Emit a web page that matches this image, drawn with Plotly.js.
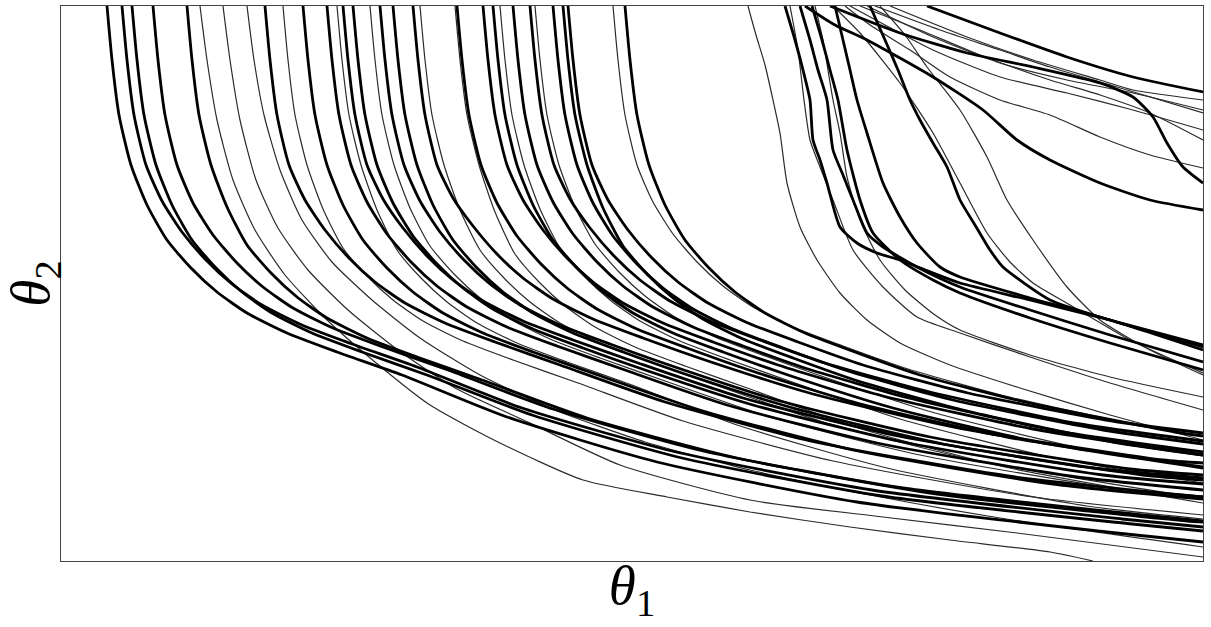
<!DOCTYPE html>
<html>
<head>
<meta charset="utf-8">
<script src="https://cdn.plot.ly/plotly-3.0.1.min.js"></script>
<style>
  html, body { margin: 0; padding: 0; background: #fff; }
  #chart { width: 1211px; height: 627px; }
</style>
</head>
<body>
<div id="chart"></div>
<script>
// trajectories in the (theta1, theta2) plane
// thick paths
const thickX = [
  [107,112,119,131,147,167,191,217,247,287,337,402,507,657,857,1107,1203],
  [122,127,134,146,162,182,206,232,262,302,352,417,522,672,872,1122,1203],
  [132,137,144,156,172,192,216,242,272,312,362,427,532,682,882,1132,1203],
  [153,158,165,177,193,213,237,263,293,333,383,448,553,703,903,1153,1203],
  [187,192,199,211,227,247,271,297,327,367,417,482,587,737,937,1187,1203],
  [265,270,277,289,305,325,349,375,405,445,495,560,665,815,1015,1203],
  [303,308,315,327,343,363,387,413,443,483,533,598,703,853,1053,1203],
  [327,332,339,351,367,387,411,437,467,507,557,622,727,877,1077,1203],
  [343,348,355,367,383,403,427,453,483,523,573,638,743,893,1093,1203],
  [353,358,365,377,393,413,437,463,493,533,583,648,753,903,1103,1203],
  [380,385,392,404,420,440,464,490,520,560,610,675,780,930,1130,1203],
  [393,398,405,417,433,453,477,503,533,573,623,688,793,943,1143,1203],
  [413,418,425,437,453,473,497,523,553,593,643,708,813,963,1163,1203],
  [457,462,469,481,497,517,541,567,597,637,687,752,857,1007,1203],
  [483,488,495,507,523,543,567,593,623,663,713,778,883,1033,1203],
  [493,498,505,517,533,553,577,603,633,673,723,788,893,1043,1203],
  [513,518,525,537,553,573,597,623,653,693,743,808,913,1063,1203],
  [530,535,542,554,570,590,614,640,670,710,760,825,930,1080,1203],
  [553,558,565,577,593,613,637,663,693,733,783,848,953,1103,1203],
  [563,568,575,587,603,623,647,673,703,743,793,858,963,1113,1203],
  [568,573,580,592,608,628,652,678,708,748,798,863,968,1118,1203],
  [625,630,637,649,665,685,709,735,765,805,855,920,1025,1175,1203],
  [785,795,803,810,813,820,827,840,857,877,900,933,960,1030,1110,1203],
  [800,810,818,827,833,843,853,867,883,917,960,1030,1110,1203],
  [812,822,830,838,847,860,873,900,933,960,1030,1110,1203],
  [835,843,850,857,867,883,900,917,940,960,1030,1110,1203],
  [870,885,898,910,920,933,947,960,975,990,1003,1050,1100,1203],
  [927,1000,1067,1133,1203],
  [830,900,967,1033,1100,1133,1153,1167,1183,1203],
  [805,835,867,933,983,1017,1050,1100,1150,1203]
];
const thickY = [
  [555,501,446,396,356,321,293,269,248,228,209,186,144,99,59,29,19],
  [555,501,446,396,360,329,301,277,256,236,217,194,153,110,71,42,34],
  [555,501,446,396,356,321,293,269,248,228,209,186,146,103,65,37,30],
  [555,501,446,396,358,326,298,274,253,233,214,191,152,110,73,45,40],
  [555,501,446,396,354,316,288,264,243,223,204,181,143,103,67,40,39],
  [555,501,446,396,361,331,303,279,258,238,219,196,159,119,84,64],
  [555,501,446,396,356,321,293,269,248,228,209,186,150,111,77,62],
  [555,501,446,396,359,327,299,275,254,234,215,192,156,118,84,71],
  [555,501,446,396,362,333,305,281,260,240,221,198,163,126,93,83],
  [555,501,446,396,358,325,297,273,252,232,213,190,156,119,86,77],
  [555,501,446,396,360,329,301,277,256,236,217,194,160,124,92,86],
  [555,501,446,396,356,321,293,269,248,228,209,186,153,117,86,81],
  [555,501,446,396,363,335,307,283,262,242,223,200,167,132,101,98],
  [555,501,446,396,358,325,297,273,252,232,213,190,158,124,94],
  [555,501,446,396,361,331,303,279,258,238,219,196,165,132,106],
  [555,501,446,396,356,321,293,269,248,228,209,186,153,118,93],
  [555,501,446,396,359,327,299,275,254,234,215,192,162,129,109],
  [555,501,446,396,362,333,305,281,260,240,221,198,169,137,120],
  [555,501,446,396,358,325,297,273,252,232,213,190,161,131,117],
  [555,501,446,396,353,315,287,263,242,222,203,180,151,119,106],
  [555,501,446,396,361,331,303,279,258,238,219,196,168,139,128],
  [555,501,446,396,356,321,293,269,248,228,209,186,159,129,125],
  [555,521,491,461,421,401,378,334,318,308,301,288,278,261,241,216],
  [555,521,491,461,411,386,361,328,314,294,274,251,226,199],
  [555,521,491,461,411,361,328,301,281,268,243,218,191],
  [555,521,491,461,428,378,344,318,294,284,263,241,211],
  [555,521,491,461,441,418,394,361,336,311,294,261,244,214],
  [555,528,504,484,469],
  [555,528,508,494,478,464,444,418,394,378],
  [555,536,521,484,451,421,401,378,361,351]
];

// thin paths
const thinX = [
  [200,207,217,233,255,285,325,375,430,500,583,667,750,850,950,1050,1093],
  [223,230,240,256,278,308,348,398,455,530,620,750,883,1017,1203],
  [247,254,264,280,302,332,372,420,480,555,645,750,870,1000,1203],
  [283,288,295,307,323,343,367,393,423,463,513,578,683,833,1033,1203],
  [337,342,349,361,377,397,421,447,477,517,567,632,737,887,1087,1203],
  [370,375,382,394,410,430,454,480,510,550,600,665,770,920,1120,1203],
  [420,425,432,444,460,480,504,530,560,600,650,715,820,970,1170,1203],
  [455,460,467,479,495,515,539,565,595,635,685,750,855,1005,1203],
  [500,505,512,524,540,560,584,610,640,680,730,795,900,1050,1203],
  [535,540,547,559,575,595,619,645,675,715,765,830,935,1085,1203],
  [613,618,625,637,653,673,697,723,753,793,843,908,1013,1163,1203],
  [748,756,765,773,780,787,800,817,840,867,900,950,1020,1110,1203],
  [790,798,804,810,820,833,853,883,917,960,1030,1110,1203],
  [815,823,828,833,840,847,860,880,905,935,960,1030,1110,1203],
  [833,860,900,933,960,987,1010,1033,1070,1130,1203],
  [880,905,927,960,987,1007,1033,1067,1100,1150,1203],
  [890,967,1033,1100,1133,1203],
  [867,933,1000,1067,1133,1203],
  [850,933,1000,1067,1133,1203],
  [845,870,910,950,1000,1050,1100,1150,1203],
  [860,920,980,1050,1100,1150,1203],
  [875,940,1000,1050,1117,1203]
];
const thinY = [
  [555,501,441,381,331,286,243,199,156,118,81,64,49,34,21,9,0],
  [555,501,441,381,333,291,251,211,173,138,96,61,44,28,4],
  [555,501,446,391,341,299,261,223,186,151,119,91,66,43,14],
  [555,501,446,396,352,313,285,261,240,220,201,178,140,100,64,46],
  [555,501,446,396,351,311,283,259,238,218,199,176,136,93,55,42],
  [555,501,446,396,353,315,287,263,242,222,203,180,144,106,72,65],
  [555,501,446,396,351,311,283,259,238,218,199,176,140,102,68,65],
  [555,501,446,396,349,307,279,255,234,214,195,172,134,94,58],
  [555,501,446,396,352,313,285,261,240,220,201,178,142,104,78],
  [555,501,446,396,354,317,289,265,244,224,205,182,148,112,93],
  [555,501,446,396,359,327,299,275,254,234,215,192,163,131,125],
  [555,526,496,461,428,378,334,301,268,241,218,196,173,146,121],
  [555,511,461,421,394,361,311,274,244,228,204,178,151],
  [555,521,491,461,428,384,341,301,271,246,231,206,184,164],
  [555,528,478,428,378,328,299,278,256,221,188],
  [555,526,494,451,404,361,321,274,241,211,186],
  [555,524,501,481,471,461],
  [555,524,498,481,468,451],
  [555,511,484,468,451,431],
  [555,536,511,484,461,446,424,406,393],
  [555,531,506,481,466,448,421],
  [555,531,511,494,474,448]
];

const traces = [];
thinX.forEach((xs, i) => {
  traces.push({
    x: xs, y: thinY[i], mode: 'lines', hoverinfo: 'skip',
    line: { color: '#2b2b2b', width: 1.2, shape: 'spline', smoothing: 0.6 }
  });
});
thickX.forEach((xs, i) => {
  traces.push({
    x: xs, y: thickY[i], mode: 'lines', hoverinfo: 'skip',
    line: { color: '#000', width: 2.8, shape: 'spline', smoothing: 0.6 }
  });
});

const axisBase = {
  showgrid: false, zeroline: false, showticklabels: false, ticks: '',
  showline: true, mirror: true, linecolor: '#444', linewidth: 1
};
const titleFont = { family: 'Liberation Serif, DejaVu Serif, serif', size: 55, color: '#000' };

Plotly.newPlot('chart', traces, {
  width: 1211, height: 627,
  margin: { l: 61, r: 8, t: 6, b: 66 },
  paper_bgcolor: '#fff', plot_bgcolor: '#fff',
  showlegend: false,
  xaxis: Object.assign({}, axisBase, {
    range: [61, 1203],
    title: { text: '<i>θ</i><sub>1</sub>', font: titleFont, standoff: 4 }
  }),
  yaxis: Object.assign({}, axisBase, {
    range: [0, 555],
    title: { text: '<i>θ</i><sub>2</sub>', font: titleFont, standoff: 16 }
  })
}, { staticPlot: true });
</script>
</body>
</html>
